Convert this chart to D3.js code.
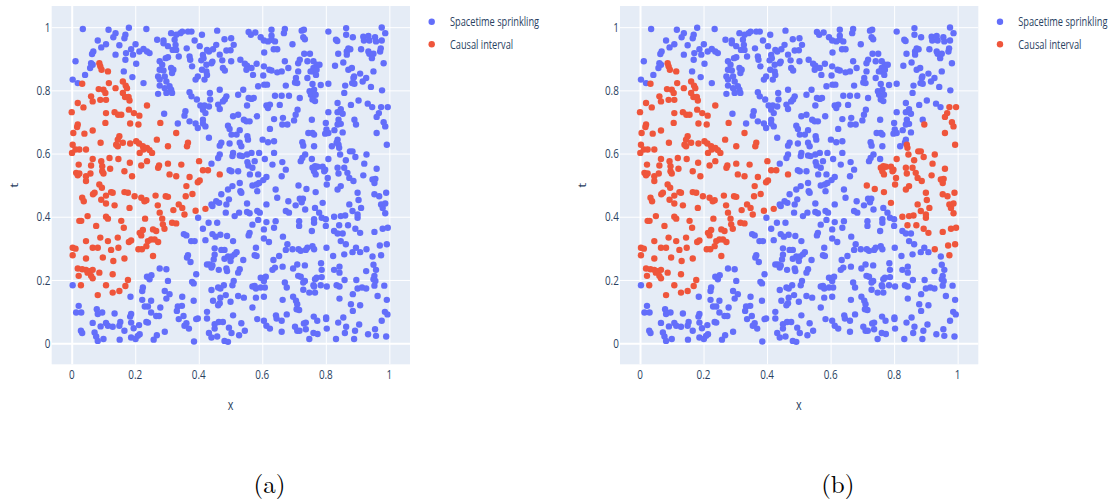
<!DOCTYPE html>
<html><head><meta charset="utf-8">
<script src="https://cdn.jsdelivr.net/npm/d3@7"></script>
<style>html,body{margin:0;padding:0;background:#fff;}svg{display:block;}</style>
</head><body>
<svg id="chart" width="1113" height="501"></svg>
<script>
// ---------- data (x, t) ----------
// points that are blue ("Spacetime sprinkling") in both panels
const sprinklingPoints = [
[0.035,0.994],[0.116,0.992],[0.18,0.998],[0.235,0.994],[0.138,0.981],[0.131,0.968],[0.169,0.976],[0.166,0.965],[0.082,0.958],[0.108,0.946],[0.093,0.936],[0.068,0.923],[0.064,0.915],[0.15,0.943],[0.201,0.946],[0.187,0.93],[0.171,0.918],[0.213,0.923],[0.226,0.931],[0.237,0.923],[0.245,0.918],[0.138,0.913],[0.169,0.897],[0.193,0.913],[0.203,0.884],[0.012,0.892],[0.061,0.886],[0.066,0.881],[0.058,0.871],[0.042,0.849],[0.164,0.86],[0.191,0.842],[0.003,0.834],[0.019,0.823],[0.226,0.823],[0.269,0.96],[0.289,0.958],[0.289,0.949],[0.303,0.94],[0.277,0.892],[0.285,0.881],[0.277,0.865],[0.289,0.863],[0.296,0.902],[0.303,0.905],[0.272,0.844],[0.277,0.834],[0.293,0.844],[0.298,0.828],[0.277,0.815],[0.293,0.807],[0.298,0.792],[0.272,0.789],[0.291,0.726],
[0.313,0.981],[0.329,0.976],[0.324,0.96],[0.327,0.944],[0.318,0.928],[0.329,0.928],[0.337,0.907],[0.342,0.981],[0.348,0.986],[0.366,0.986],[0.377,0.986],[0.387,0.958],[0.41,0.976],[0.403,0.94],[0.362,0.933],[0.371,0.907],[0.373,0.897],[0.413,0.912],[0.426,0.928],[0.432,0.923],[0.408,0.895],[0.415,0.902],[0.445,0.93],[0.455,0.944],[0.458,0.989],[0.481,0.962],[0.502,0.965],[0.51,0.944],[0.487,0.926],[0.5,0.927],[0.466,0.913],[0.443,0.891],[0.44,0.886],[0.474,0.895],[0.502,0.892],[0.424,0.881],[0.41,0.865],[0.313,0.871],[0.32,0.865],[0.316,0.855],[0.379,0.876],[0.39,0.834],[0.397,0.844],[0.418,0.834],[0.426,0.849],[0.424,0.86],[0.476,0.871],[0.482,0.863],[0.531,0.897],[0.545,0.884],[0.552,0.878],[0.55,0.865],[0.566,0.871],[0.571,0.849],[0.557,0.985],[0.564,0.976],[0.578,0.983],[0.595,0.968],[0.629,0.992],[0.629,0.973],[0.605,0.958],[0.618,0.955],[0.629,0.96],[0.64,0.955],[0.647,0.93],[0.636,0.93],[0.606,0.92],[0.582,0.884],[0.605,0.876],[0.622,0.865],[0.629,0.863],[0.647,0.857],[0.603,0.847],[0.587,0.813],[0.606,0.818],[0.615,0.818],[0.308,0.813],[0.313,0.802],[0.316,0.792],[0.54,0.802],[0.557,0.776],[0.566,0.773],[0.573,0.776],[0.524,0.786],[0.466,0.802],[0.435,0.792],[0.436,0.771],[0.371,0.794],[0.377,0.781],[0.394,0.771],[0.482,0.771],[0.487,0.781],[0.476,0.765],[0.552,0.752],[0.583,0.718],[0.613,0.752],[0.618,0.744],[0.624,0.755],[0.405,0.752],[0.418,0.752],[0.413,0.739],[0.421,0.728],[0.432,0.749],[0.461,0.755],[0.466,0.741],[0.358,0.734],[0.355,0.72],[0.371,0.702],[0.39,0.695],[0.397,0.681],[0.413,0.707],[0.413,0.695],[0.421,0.686],[0.334,0.695],[0.432,0.65],[0.492,0.688],[0.497,0.678],[0.508,0.718],[0.524,0.723],[0.503,0.66],[0.519,0.66],[0.529,0.674],[0.542,0.707],[0.55,0.702],[0.56,0.702],[0.529,0.634],[0.534,0.623],[0.553,0.655],[0.555,0.644],[0.471,0.634],[0.466,0.625],[0.497,0.632],[0.601,0.644],[0.624,0.678],[0.618,0.636],[0.508,0.602],[0.506,0.592],[0.529,0.594],[0.537,0.592],[0.552,0.597],[0.566,0.602],[0.59,0.602],[0.466,0.597],[0.461,0.586],[0.44,0.568],[0.497,0.547],[0.503,0.544],[0.524,0.544],[0.553,0.573],[0.556,0.562],[0.576,0.576],[0.608,0.583],[0.587,0.534],[0.613,0.526],[0.561,0.534],[0.569,0.555],
[0.668,0.981],[0.671,0.994],[0.695,0.946],[0.724,0.989],[0.731,0.992],[0.729,0.968],[0.734,0.962],[0.808,0.986],[0.832,0.96],[0.836,0.956],[0.864,0.997],[0.864,0.976],[0.885,0.968],[0.918,0.97],[0.92,0.958],[0.934,0.972],[0.937,0.958],[0.955,0.968],[0.958,0.955],[0.976,0.958],[0.976,0.999],[0.987,0.981],[0.839,0.916],[0.866,0.923],[0.871,0.933],[0.877,0.93],[0.866,0.913],[0.911,0.93],[0.934,0.923],[0.937,0.916],[0.95,0.916],[0.971,0.923],[0.973,0.933],[0.945,0.902],[0.982,0.886],[0.671,0.892],[0.713,0.886],[0.718,0.897],[0.732,0.916],[0.75,0.916],[0.742,0.892],[0.761,0.892],[0.771,0.881],[0.78,0.881],[0.761,0.871],[0.761,0.86],[0.769,0.849],[0.771,0.865],[0.752,0.86],[0.661,0.86],[0.682,0.871],[0.713,0.86],[0.706,0.839],[0.742,0.839],[0.829,0.878],[0.855,0.888],[0.871,0.865],[0.882,0.871],[0.908,0.853],[0.927,0.839],[0.95,0.86],[0.887,0.839],[0.889,0.844],
[0.674,0.815],[0.703,0.825],[0.71,0.823],[0.758,0.82],[0.749,0.797],[0.753,0.786],[0.763,0.802],[0.768,0.786],[0.758,0.771],[0.766,0.766],[0.784,0.817],[0.808,0.821],[0.861,0.815],[0.858,0.792],[0.883,0.823],[0.89,0.821],[0.916,0.828],[0.942,0.811],[0.977,0.8],[0.64,0.783],[0.661,0.783],[0.684,0.783],[0.655,0.754],[0.718,0.776],[0.711,0.739],[0.705,0.723],[0.7,0.705],[0.665,0.713],[0.637,0.709],[0.663,0.692],[0.679,0.692],[0.756,0.707],[0.808,0.731],[0.837,0.76],[0.879,0.754],[0.903,0.768],[0.932,0.758],[0.946,0.747],[0.837,0.731],[0.847,0.74],[0.853,0.726],[0.84,0.707],[0.847,0.694],[0.837,0.692],[0.8,0.697],[0.802,0.676],[0.808,0.665],[0.798,0.663],[0.827,0.674],[0.853,0.667],[0.837,0.644],[0.834,0.634],[0.89,0.707],[0.745,0.665],[0.758,0.665],[0.763,0.66],[0.726,0.636],[0.729,0.625],[0.763,0.623],[0.819,0.623],[0.637,0.639],[0.637,0.602],[0.735,0.597],[0.726,0.586],[0.721,0.576],[0.756,0.583],[0.663,0.573],[0.674,0.549],[0.661,0.528],[0.632,0.565],[0.642,0.486],[0.647,0.46],[0.682,0.449],[0.674,0.418],[0.684,0.413],[0.718,0.457],[0.728,0.457],[0.724,0.446],[0.705,0.436],[0.735,0.423],[0.766,0.428],[0.779,0.413],[0.787,0.397],[0.8,0.392],[0.763,0.392],[0.763,0.381],[0.8,0.371],[0.642,0.386],[0.637,0.365],[0.716,0.386],[0.716,0.371],[0.756,0.355],[0.826,0.355],[0.837,0.347],[0.853,0.347],[0.847,0.323],[0.863,0.313],[0.665,0.337],[0.679,0.313],[0.674,0.295],[0.695,0.297],[0.714,0.297],[0.721,0.292],[0.737,0.295],[0.742,0.302],[0.758,0.307],[0.763,0.297],[0.653,0.276],[0.802,0.302],[0.823,0.276],[0.858,0.281],[0.884,0.288],[0.895,0.302],[0.908,0.288],[0.947,0.274],
[0.003,0.183],[0.277,0.236],[0.298,0.234],[0.237,0.21],[0.251,0.215],[0.245,0.202],[0.303,0.197],[0.224,0.176],[0.222,0.165],[0.293,0.165],[0.185,0.147],[0.222,0.137],[0.25,0.134],[0.298,0.141],[0.022,0.118],[0.014,0.097],[0.03,0.097],[0.079,0.107],[0.082,0.092],[0.096,0.097],[0.135,0.094],[0.187,0.092],[0.184,0.084],[0.24,0.116],[0.23,0.116],[0.25,0.097],[0.266,0.086],[0.275,0.086],[0.279,0.113],[0.066,0.064],[0.091,0.053],[0.108,0.064],[0.114,0.055],[0.129,0.052],[0.153,0.067],[0.15,0.055],[0.187,0.065],[0.212,0.057],[0.235,0.067],[0.24,0.065],[0.195,0.047],[0.029,0.039],[0.033,0.032],[0.072,0.034],[0.077,0.021],[0.082,0.007],[0.1,0.013],[0.166,0.039],[0.151,0.011],[0.214,0.028],[0.208,0.023],[0.187,0.018],[0.201,0.013],[0.268,0.025],[0.258,0.011],[0.293,0.036],
[0.506,0.497],[0.529,0.507],[0.531,0.481],[0.534,0.476],[0.569,0.499],[0.582,0.502],[0.59,0.507],[0.584,0.481],[0.603,0.516],[0.492,0.486],[0.471,0.471],[0.455,0.449],[0.464,0.444],[0.443,0.434],[0.44,0.439],[0.495,0.455],[0.487,0.439],[0.485,0.413],[0.513,0.402],[0.527,0.413],[0.552,0.442],[0.552,0.415],[0.56,0.411],[0.584,0.418],[0.592,0.413],[0.613,0.439],[0.398,0.397],[0.431,0.381],[0.458,0.381],[0.413,0.362],[0.587,0.39],[0.569,0.375],[0.56,0.349],[0.557,0.341],[0.605,0.36],[0.613,0.383],[0.353,0.345],[0.361,0.341],[0.376,0.323],[0.387,0.323],[0.421,0.326],[0.443,0.345],[0.453,0.337],[0.468,0.343],[0.489,0.339],[0.508,0.323],[0.605,0.331],[0.621,0.32],[0.58,0.302],[0.45,0.3],[0.45,0.28],[0.471,0.295],[0.481,0.295],[0.492,0.274],[0.503,0.274],[0.513,0.281],[0.519,0.288],[0.481,0.267],[0.366,0.278],[0.363,0.271],[0.374,0.257],[0.426,0.249],[0.434,0.249],[0.44,0.239],[0.443,0.246],[0.447,0.265],[0.463,0.232],[0.487,0.236],[0.489,0.228],[0.5,0.26],[0.54,0.263],[0.529,0.234],[0.524,0.223],[0.576,0.278],[0.582,0.276],[0.635,0.263],[0.64,0.239],[0.632,0.232],[0.595,0.207],[0.611,0.21],[0.605,0.197],[0.392,0.218],[0.379,0.194],[0.384,0.189],[0.308,0.155],[0.51,0.197],[0.506,0.183],[0.479,0.183],[0.44,0.168],[0.461,0.176],[0.468,0.173],[0.445,0.134],[0.468,0.144],[0.466,0.126],[0.461,0.12],[0.485,0.152],[0.5,0.131],[0.524,0.149],[0.542,0.144],[0.569,0.179],[0.576,0.181],[0.58,0.173],[0.595,0.176],[0.608,0.176],[0.58,0.144],[0.605,0.147],[0.569,0.113],[0.348,0.147],[0.347,0.118],[0.384,0.134],[0.334,0.116],[0.331,0.102],[0.352,0.086],[0.361,0.063],[0.355,0.055],[0.337,0.076],[0.369,0.046],[0.392,0.076],[0.397,0.078],[0.426,0.099],[0.426,0.078],[0.45,0.06],[0.45,0.046],[0.463,0.067],[0.476,0.067],[0.508,0.088],[0.495,0.049],[0.503,0.032],[0.534,0.063],[0.545,0.039],[0.527,0.025],[0.432,0.032],[0.44,0.018],[0.458,0.021],[0.481,0.007],[0.492,0.004],[0.385,0.005],[0.584,0.076],[0.605,0.071],[0.613,0.055],[0.624,0.046],[0.643,0.088],[0.645,0.078],
[0.664,0.242],[0.697,0.236],[0.734,0.246],[0.71,0.249],[0.785,0.253],[0.787,0.232],[0.826,0.232],[0.843,0.242],[0.843,0.223],[0.787,0.209],[0.771,0.207],[0.766,0.202],[0.713,0.213],[0.721,0.21],[0.734,0.197],[0.729,0.192],[0.671,0.192],[0.677,0.176],[0.761,0.183],[0.763,0.179],[0.784,0.183],[0.803,0.179],[0.729,0.169],[0.748,0.16],[0.766,0.16],[0.834,0.183],[0.843,0.179],[0.859,0.2],[0.896,0.2],[0.9,0.173],[0.914,0.176],[0.927,0.173],[0.885,0.155],[0.927,0.228],[0.95,0.248],[0.958,0.232],[0.953,0.213],[0.95,0.202],[0.956,0.197],[0.953,0.182],[0.984,0.182],[0.963,0.149],[0.664,0.137],[0.697,0.147],[0.706,0.134],[0.71,0.123],[0.708,0.107],[0.716,0.105],[0.843,0.141],[0.879,0.123],[0.885,0.102],[0.908,0.12],[0.992,0.137],[0.986,0.099],[0.994,0.091],[0.677,0.091],[0.661,0.071],[0.661,0.036],[0.762,0.084],[0.773,0.071],[0.801,0.081],[0.801,0.076],[0.803,0.046],[0.839,0.065],[0.855,0.081],[0.864,0.052],[0.905,0.059],[0.933,0.028],[0.955,0.044],[0.976,0.071],[0.958,0.023],[0.99,0.021],[0.737,0.065],[0.731,0.062],[0.703,0.052],[0.71,0.039],[0.717,0.039],[0.737,0.044],[0.761,0.032],[0.774,0.029],[0.748,0.013],[0.832,0.013],[0.86,0.032],[0.889,0.013],[0.892,0.039]
];
// points red ("Causal interval") in both panels
const intervalPointsBoth = [
[0.087,0.886],[0.09,0.876],[0.094,0.865],[0.114,0.86],[0.033,0.821],[0.117,0.823],[0.138,0.807],[0.161,0.828],[0.17,0.815],[0.174,0.807],[0.085,0.804],[0.1,0.802],[0.106,0.792],[0.061,0.781],[0.066,0.765],[0.09,0.77],[0.108,0.77],[0.168,0.779],[0.179,0.779],[0.182,0.768],[0.161,0.792],[0.019,0.76],[0.037,0.746],[0.0,0.731],[0.135,0.731],[0.146,0.723],[0.156,0.723],[0.108,0.728],[0.18,0.739],[0.196,0.728],[0.237,0.752],[0.213,0.72],[0.106,0.697],[0.019,0.692],[0.017,0.684],[0.066,0.673],[0.005,0.665],[0.04,0.663],[0.184,0.695],[0.21,0.692],[0.15,0.655],[0.145,0.644],[0.279,0.697],[0.003,0.628],[0.001,0.602],[0.012,0.613],[0.024,0.613],[0.045,0.613],[0.091,0.634],[0.14,0.628],[0.145,0.623],[0.161,0.634],[0.184,0.632],[0.203,0.639],[0.212,0.632],[0.224,0.623],[0.226,0.613],[0.214,0.602],[0.237,0.618],[0.245,0.611],[0.253,0.602],[0.268,0.644],[0.303,0.623],[0.066,0.583],[0.119,0.586],[0.147,0.583],[0.237,0.576],[0.275,0.562],[0.303,0.568],[0.022,0.565],[0.061,0.562],[0.093,0.576],[0.096,0.56],[0.183,0.571],[0.219,0.562],[0.014,0.539],[0.019,0.531],[0.024,0.537],[0.045,0.528],[0.059,0.537],[0.096,0.544],[0.1,0.537],[0.121,0.552],[0.166,0.544],[0.19,0.528],[0.272,0.555],
[0.329,0.665],[0.366,0.634],[0.363,0.623],[0.345,0.565],[0.401,0.576],[0.413,0.547],[0.429,0.547],[0.466,0.534],[0.371,0.526],[0.329,0.528],[0.308,0.534],
[0.045,0.513],[0.087,0.502],[0.095,0.492],[0.033,0.46],[0.038,0.449],[0.067,0.471],[0.072,0.476],[0.108,0.467],[0.124,0.478],[0.129,0.476],[0.093,0.454],[0.108,0.442],[0.135,0.436],[0.166,0.478],[0.177,0.476],[0.219,0.46],[0.229,0.449],[0.235,0.452],[0.198,0.465],[0.182,0.428],[0.264,0.467],[0.271,0.436],[0.296,0.465],[0.303,0.463],[0.108,0.4],[0.114,0.394],[0.024,0.387],[0.03,0.387],[0.05,0.402],[0.077,0.371],[0.156,0.387],[0.164,0.365],[0.231,0.394],[0.277,0.413],[0.285,0.394],[0.287,0.376],[0.292,0.362],[0.224,0.358],[0.214,0.349],[0.256,0.36],[0.266,0.355],[0.219,0.341],[0.045,0.323],[0.09,0.334],[0.114,0.323],[0.145,0.334],[0.18,0.32],[0.187,0.325],[0.24,0.323],[0.25,0.328],[0.261,0.328],[0.272,0.32],[0.21,0.297],[0.221,0.297],[0.235,0.307],[0.003,0.302],[0.012,0.299],[0.003,0.278],[0.066,0.302],[0.082,0.302],[0.098,0.271],[0.045,0.268],[0.124,0.295],[0.147,0.302],[0.131,0.26],[0.166,0.268],[0.256,0.276],[0.019,0.236],[0.033,0.234],[0.045,0.232],[0.056,0.228],[0.066,0.232],[0.05,0.223],[0.061,0.213],[0.066,0.205],[0.022,0.213],[0.087,0.223],[0.129,0.218],[0.177,0.2],[0.029,0.183],[0.108,0.183],[0.169,0.181],[0.15,0.165],[0.129,0.16],[0.082,0.152],
[0.361,0.497],[0.397,0.509],[0.403,0.515],[0.359,0.465],[0.38,0.472],[0.337,0.439],[0.348,0.428],[0.355,0.407],[0.32,0.421],[0.39,0.419],[0.421,0.425],[0.316,0.381],[0.329,0.379]
];
// points that are blue in panel (a) but red in panel (b)
const intervalPointsRightOnly = [
[0.974,0.747],[0.995,0.747],[0.967,0.728],[0.96,0.716],[0.982,0.699],[0.987,0.686],[0.895,0.692],[0.96,0.665],[0.992,0.628],[0.84,0.628],[0.842,0.618],[0.876,0.607],[0.884,0.607],[0.845,0.597],[0.928,0.597],[0.808,0.583],[0.863,0.579],[0.893,0.589],[0.921,0.568],[0.758,0.555],[0.766,0.56],[0.774,0.558],[0.763,0.544],[0.768,0.534],[0.79,0.558],[0.798,0.549],[0.795,0.544],[0.837,0.555],[0.84,0.537],[0.858,0.555],[0.868,0.539],[0.874,0.523],[0.96,0.552],[0.918,0.531],[0.806,0.523],[0.887,0.513],[0.947,0.518],[0.956,0.52],[0.953,0.507],[0.803,0.502],[0.714,0.499],[0.739,0.488],[0.768,0.478],[0.837,0.486],[0.847,0.497],[0.9,0.476],[0.953,0.471],[0.968,0.465],[0.99,0.476],[0.903,0.453],[0.79,0.444],[0.874,0.439],[0.974,0.439],[0.979,0.428],[0.987,0.442],[0.987,0.411],[0.911,0.428],[0.884,0.418],[0.826,0.4],[0.847,0.402],[0.861,0.404],[0.9,0.407],[0.9,0.397],[0.842,0.373],[0.87,0.373],[0.893,0.362],[0.908,0.349],[0.979,0.362],[0.995,0.365],[0.953,0.352],[0.97,0.309],[0.992,0.313],[0.928,0.297],[0.974,0.278]
];
const tickValues = [0, 0.2, 0.4, 0.6, 0.8, 1];
const legendLabels = ["Spacetime sprinkling", "Causal interval"];
const panelCaptions = ["(a)", "(b)"];
const axisTitles = ["x", "t"];

// ---------- drawing ----------
const colors = {blue: "#636efa", red: "#ef553b", bg: "#e5ecf6", text: "#2a3f5f"};
const svg = d3.select("#chart");
const panelOffsets = [0, 568.3];

function sText(g, x, y, str, opts) {
  const sx = opts.sx === undefined ? 0.77 : opts.sx;
  const gg = g.append("g").attr("transform", `translate(${x},${y}) scale(${sx},1)` + (opts.rot ? ` rotate(${opts.rot})` : ""));
  gg.append("text").attr("x", 0).attr("y", 0)
    .attr("text-anchor", opts.anchor || "start")
    .attr("font-family", opts.family || "'Open Sans', 'Noto Sans', sans-serif")
    .attr("font-size", opts.size || 12)
    .attr("fill", opts.fill || colors.text)
    .text(str);
  return gg;
}

panelOffsets.forEach((off, pi) => {
  const g = svg.append("g").attr("transform", `translate(${off},0)`);
  const x = d3.scaleLinear().domain([-0.063, 1.065]).range([51.7, 410]);
  const y = d3.scaleLinear().domain([-0.067, 1.067]).range([364.3, 6]);

  g.append("rect").attr("x", x.range()[0]).attr("y", y.range()[1])
    .attr("width", x.range()[1] - x.range()[0]).attr("height", y.range()[0] - y.range()[1])
    .attr("fill", colors.bg);

  // grid lines via axes
  const gx = g.append("g").attr("transform", `translate(0,${y.range()[0]})`)
    .call(d3.axisBottom(x).tickValues(tickValues).tickSize(-(y.range()[0] - y.range()[1])).tickFormat(""));
  const gy = g.append("g").attr("transform", `translate(${x.range()[0]},0)`)
    .call(d3.axisLeft(y).tickValues(tickValues).tickSize(-(x.range()[1] - x.range()[0])).tickFormat(""));
  [gx, gy].forEach(a => {
    a.select(".domain").remove();
    a.selectAll(".tick line").attr("stroke", "#fff").attr("stroke-width", d => d === 0 ? 2 : 1);
  });

  // tick labels
  tickValues.forEach(v => {
    sText(g, x(v), 379, d3.format("~g")(v), {anchor: "middle", size: 13, sx: 0.76});
    sText(g, 50.5, y(v) + 4.6, d3.format("~g")(v), {anchor: "end", size: 13, sx: 0.76});
  });
  sText(g, x(0.5), 410, axisTitles[0], {anchor: "middle", size: 14});
  sText(g, 17.5, y(0.5), axisTitles[1], {anchor: "middle", size: 14, rot: -90});

  // points
  const blue = pi === 0 ? sprinklingPoints.concat(intervalPointsRightOnly) : sprinklingPoints;
  const red = pi === 0 ? intervalPointsBoth : intervalPointsBoth.concat(intervalPointsRightOnly);
  g.append("g").selectAll("circle").data(blue).join("circle")
    .attr("cx", d => x(d[0])).attr("cy", d => y(d[1])).attr("r", 3.2).attr("fill", colors.blue);
  g.append("g").selectAll("circle").data(red).join("circle")
    .attr("cx", d => x(d[0])).attr("cy", d => y(d[1])).attr("r", 3.2).attr("fill", colors.red);

  // legend
  legendLabels.forEach((lab, i) => {
    const ly = 21.7 + i * 22.6;
    g.append("circle").attr("cx", 431.7).attr("cy", ly).attr("r", 3.2).attr("fill", i === 0 ? colors.blue : colors.red);
    sText(g, 450, ly + 4.2, lab, {});
  });

  // caption
  sText(g, 269.5, 493, panelCaptions[pi], {anchor: "middle", size: 25, family: "'Latin Modern Roman','Liberation Serif','DejaVu Serif',serif", fill: "#000", sx: 1});
});
</script>
</body></html>
